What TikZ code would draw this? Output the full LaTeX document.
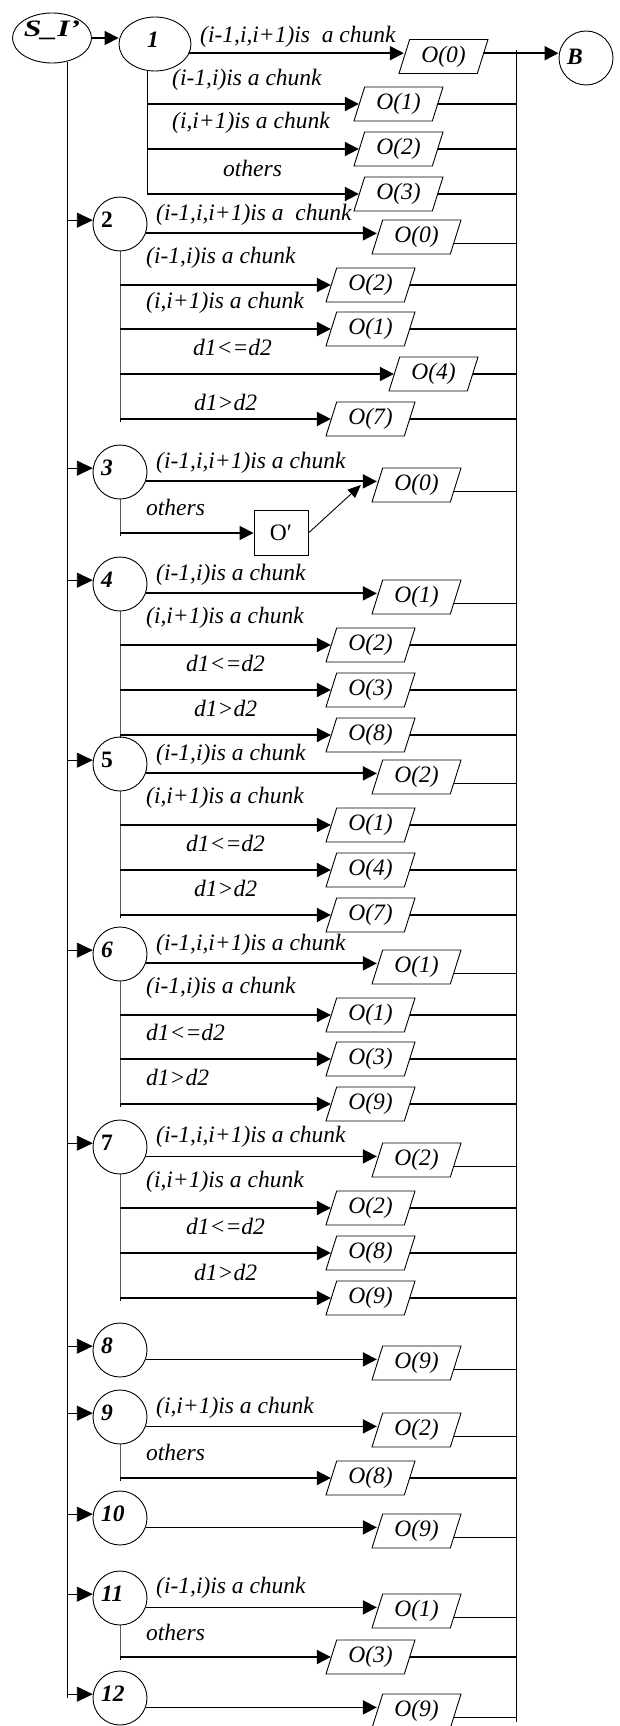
\documentclass[tikz,border=0pt]{standalone}
\usepackage{fontspec}
\setmainfont{Liberation Serif}
\usetikzlibrary{shapes.geometric,arrows.meta,calc}
\newcommand\fsz{\fontsize{23.5pt}{28pt}\selectfont}
% first (far) row of a state node
\newcommand\frow[5]{%
  \node[para] (#2) at (#5,#3) {O(#4)};
  \draw[arr] (#1.-20) -- (#1.-20 -| #2.west);
  \coordinate (#2x) at ([shift={(-3pt,-6pt)}]#2.east);
  \draw[exitf] (#2x) -- (#2x -| rtop);
}
% further (near) rows of a state node
\newcommand\nrow[5]{%
  \node[para] (#2) at (#5,#3) {O(#4)};
  \draw[arr] (#1 |- #2.west) -- (#2.west);
  \draw[exitl] (#2.east) -- (#2.east -| rtop);
}
\begin{document}
\begin{tikzpicture}[x=1pt,y=-1pt,
  ell/.style={ellipse, draw, line width=0.9pt, inner sep=0pt},
  nd/.style={circle, draw, line width=0.9pt, minimum size=54pt, inner sep=0pt},
  para/.style={trapezium, trapezium left angle=63.4, trapezium right angle=116.6,
    trapezium stretches body, draw, line width=0.9pt, minimum height=34pt,
    minimum width=89pt, inner sep=0pt, font=\fsz\itshape},
  cond/.style={anchor=west, inner sep=0pt, font=\fsz\itshape},
  nlab/.style={anchor=west, inner sep=0pt, font=\fsz\bfseries\itshape},
  arr/.style={line width=1.8pt, -{Triangle[length=14pt,width=14pt]}},
  arrin/.style={line width=0.9pt, -{Triangle[length=16pt,width=15pt]}},
  thinl/.style={line width=0.9pt},
  exitl/.style={line width=1.8pt},
  exitf/.style={line width=1pt},
  boxo/.style={draw, line width=0.9pt, minimum width=54pt, minimum height=45pt, inner sep=0pt, font=\fsz}
]
\useasboundingbox (0,0) rectangle (619,1726);

% right collecting line
\coordinate (rtop) at (516,50);
\coordinate (rbot) at (516,1722);
\draw[thinl] (rtop) -- (rbot);

% start node and sink
\node[ell, minimum width=79pt, minimum height=50pt] (sI) at (52,38) {};
\node[nlab, anchor=center] (tsI) at (52,30) {\scalebox{1.35}[1]{S\_I’}};
\node[nd] (b) at (586,58) {};
\node[nlab] (tb) at (567,57) {B};

% state nodes
\node[ell, minimum width=72pt, minimum height=54pt] (n1) at (155,44) {};
\node[nlab] (t1) at (147,40) {1};
\node[nd] (n2) at (120,224) {};   \node[nlab] (t2) at (101,220) {\textup{2}};
\node[nd] (n3) at (120,472) {};   \node[nlab] (t3) at (101,468) {3};
\node[nd] (n4) at (120,584) {};   \node[nlab] (t4) at (101,580) {4};
\node[nd] (n5) at (120,764) {};   \node[nlab] (t5) at (101,760) {\textup{5}};
\node[nd] (n6) at (120,954) {};   \node[nlab] (t6) at (101,950) {6};
\node[nd] (n7) at (120,1147) {};  \node[nlab] (t7) at (101,1143) {\textup{7}};
\node[nd] (n8) at (120,1350) {};  \node[nlab] (t8) at (101,1346) {8};
\node[nd] (n9) at (120,1417) {};  \node[nlab] (t9) at (101,1413) {9};
\node[nd] (n10) at (120,1518) {}; \node[nlab] (t10) at (101,1514) {10};
\node[nd] (n11) at (120,1598) {}; \node[nlab] (t11) at (101,1594) {11};
\node[nd] (n12) at (120,1698) {}; \node[nlab] (t12) at (101,1694) {12};

% trunk
\draw[arr] (sI.east) -- (sI.east -| n1.west);
\draw[thinl] (sI.-57) -- (sI.-57 |- n12.172) -- ++(0,4);
\foreach \n in {n2,n3,n4,n5,n6,n7,n8,n9,n10,n11,n12}
  \draw[arrin] (sI.-57 |- \n.172) -- (\n.172);

% ---- node 1
\node[para] (o11) at (443.5,56.5) {O(0)};
\draw[arr] (n1.-15) -- (n1.-15 -| o11.west);
\draw[arr] (n1.-15 -| o11.east) -- (n1.-15 -| b.west);
\node[cond] (c11) at (200,37) {(i-1,i,i+1)is\ \ a chunk};
\nrow{n1.-106}{o12}{104}{1}{398.5}
\nrow{n1.-106}{o13}{149}{2}{398.5}
\nrow{n1.-106}{o14}{194}{3}{398.5}
\draw[thinl] (n1.-106) -- (n1.-106 |- o14.west);
\node[cond] (c12) at (172,80) {(i-1,i)is a chunk};
\node[cond] (c13) at (172,123) {(i,i+1)is a chunk};
\node[cond] (c14) at (223,168) {others};

% ---- node 2
\frow{n2}{o21}{237}{0}{416.5}
\nrow{n2.south}{o22}{285}{2}{370.5}
\nrow{n2.south}{o23}{329}{1}{370.5}
\nrow{n2.south}{o24}{374}{4}{433.5}
\nrow{n2.south}{o25}{419}{7}{370.5}
\draw[thinl] (n2.south) -- (n2.south |- o25.west) -- ++(0,3);
\node[cond] (c21) at (156,215) {(i-1,i,i+1)is a\ \ chunk};
\node[cond] (c22) at (146,258) {(i-1,i)is a chunk};
\node[cond] (c23) at (146,303) {(i,i+1)is a chunk};
\node[cond] (c24) at (193,347) {d1<=d2};
\node[cond] (c25) at (194,402) {d1>d2};

% ---- node 3
\frow{n3}{o31}{485}{0}{416.5}
\node[boxo] (op) at (281,533) {O′};
\draw[arr] (n3.south |- op.west) -- (op.west);
\draw[thinl] (n3.south) -- (n3.south |- op.west) -- ++(0,3);
\coordinate (dtip) at ([xshift=-16pt]o31.west);
\draw[thinl, -{Triangle[length=13pt,width=11pt]}] (op.east) -- (dtip);
\node[cond] (c31) at (156,463) {(i-1,i,i+1)is a chunk};
\node[cond] (c32) at (146,507) {others};

% ---- node 4
\frow{n4}{o41}{597}{1}{416.5}
\nrow{n4.south}{o42}{645}{2}{370.5}
\nrow{n4.south}{o43}{690}{3}{370.5}
\nrow{n4.south}{o44}{735}{8}{370.5}
\draw[thinl] (n4.south) -- (n4.south |- o44.west) -- ++(0,3);
\node[cond] (c41) at (156,575) {(i-1,i)is a chunk};
\node[cond] (c42) at (146,618) {(i,i+1)is a chunk};
\node[cond] (c43) at (186,663) {d1<=d2};
\node[cond] (c44) at (194,708) {d1>d2};

% ---- node 5
\frow{n5}{o51}{777}{2}{416.5}
\nrow{n5.south}{o52}{825}{1}{370.5}
\nrow{n5.south}{o53}{870}{4}{370.5}
\nrow{n5.south}{o54}{915}{7}{370.5}
\draw[thinl] (n5.south) -- (n5.south |- o54.west) -- ++(0,3);
\node[cond] (c51) at (156,755) {(i-1,i)is a chunk};
\node[cond] (c52) at (146,798) {(i,i+1)is a chunk};
\node[cond] (c53) at (186,843) {d1<=d2};
\node[cond] (c54) at (194,888) {d1>d2};

% ---- node 6
\frow{n6}{o61}{967}{1}{416.5}
\nrow{n6.south}{o62}{1015}{1}{370.5}
\nrow{n6.south}{o63}{1059}{3}{370.5}
\nrow{n6.south}{o64}{1104}{9}{370.5}
\draw[thinl] (n6.south) -- (n6.south |- o64.west) -- ++(0,3);
\node[cond] (c61) at (156,945) {(i-1,i,i+1)is a chunk};
\node[cond] (c62) at (146,988) {(i-1,i)is a chunk};
\node[cond] (c63) at (146,1032) {d1<=d2};
\node[cond] (c64) at (146,1077) {d1>d2};

% ---- node 7
\frow{n7}{o71}{1160}{2}{416.5}
\nrow{n7.south}{o72}{1208}{2}{370.5}
\nrow{n7.south}{o73}{1253}{8}{370.5}
\nrow{n7.south}{o74}{1298}{9}{370.5}
\draw[thinl] (n7.south) -- (n7.south |- o74.west) -- ++(0,3);
\node[cond] (c71) at (156,1137) {(i-1,i,i+1)is a chunk};
\node[cond] (c72) at (146,1182) {(i,i+1)is a chunk};
\node[cond] (c73) at (186,1226) {d1<=d2};
\node[cond] (c74) at (194,1272) {d1>d2};

% ---- node 8
\frow{n8}{o81}{1363}{9}{416.5}

% ---- node 9
\frow{n9}{o91}{1430}{2}{416.5}
\nrow{n9.south}{o92}{1478}{8}{370.5}
\draw[thinl] (n9.south) -- (n9.south |- o92.west) -- ++(0,3);
\node[cond] (c91) at (156,1408) {(i,i+1)is a chunk};
\node[cond] (c92) at (146,1452) {others};

% ---- node 10
\frow{n10}{o101}{1531}{9}{416.5}

% ---- node 11
\frow{n11}{o111}{1611}{1}{416.5}
\nrow{n11.south}{o112}{1657}{3}{370.5}
\draw[thinl] (n11.south) -- (n11.south |- o112.west) -- ++(0,3);
\node[cond] (c111) at (156,1588) {(i-1,i)is a chunk};
\node[cond] (c112) at (146,1632) {others};

% ---- node 12
\frow{n12}{o121}{1711}{9}{416.5}
\end{tikzpicture}
\end{document}
